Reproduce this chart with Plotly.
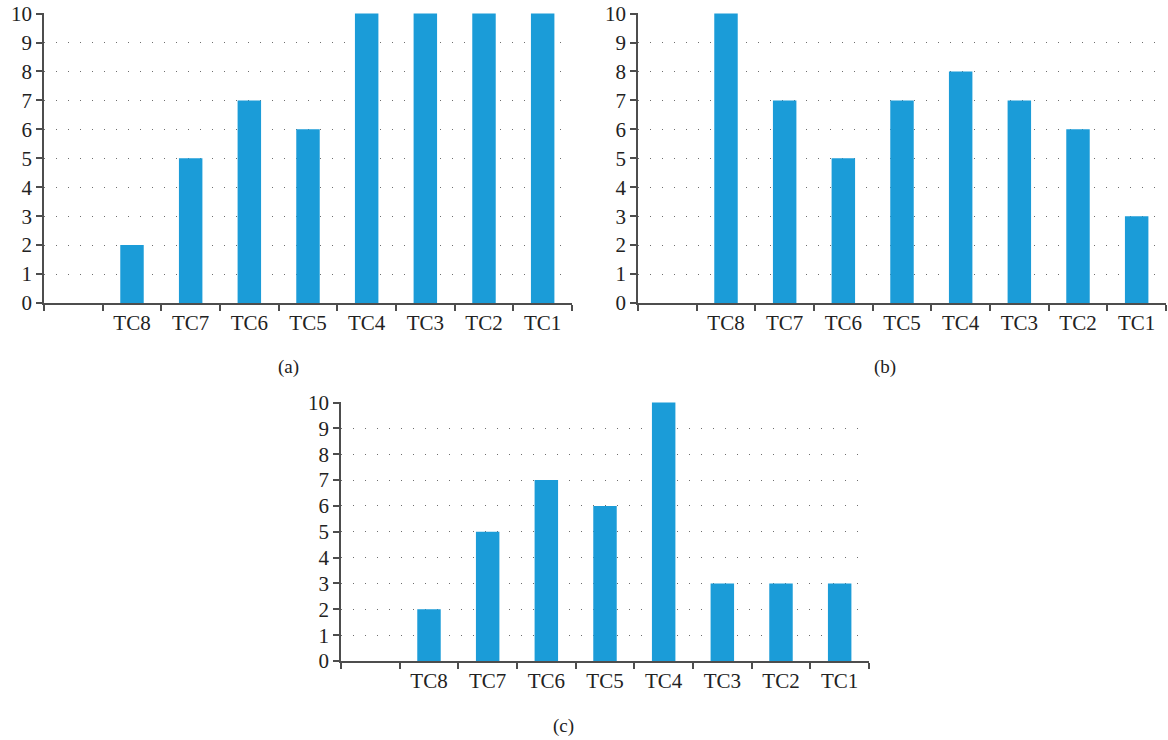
import plotly.graph_objects as go

# Test-case categories; the first slot is left empty on purpose
categories = [" ", "TC8", "TC7", "TC6", "TC5", "TC4", "TC3", "TC2", "TC1"]

values_a = [None, 2, 5, 7, 6, 10, 10, 10, 10]
values_b = [None, 10, 7, 5, 7, 8, 7, 6, 3]
values_c = [None, 2, 5, 7, 6, 10, 3, 3, 3]

panel_labels = ["(a)", "(b)", "(c)"]
y_ticks = list(range(0, 11))

W, H = 1168, 740
BAR_COLOR = "#1b9cd8"
AXIS_COLOR = "#4d4d4d"
FONT = "Liberation Serif"
TICK_SIZE = 21


def px_x(v):
    return v / W


def px_y(v):
    return 1 - v / H


# pixel boxes (left, right, top, bottom) for each panel
boxes = [
    (44, 572, 13, 303),
    (638, 1166, 13, 303),
    (341, 869, 402, 661),
]

fig = go.Figure()
series = [values_a, values_b, values_c]

for i, (vals, box) in enumerate(zip(series, boxes), start=1):
    xa = "x" if i == 1 else f"x{i}"
    ya = "y" if i == 1 else f"y{i}"
    fig.add_trace(go.Bar(
        x=categories, y=vals, xaxis=xa, yaxis=ya,
        marker=dict(color=BAR_COLOR, line=dict(width=0)),
        showlegend=False, hoverinfo="x+y",
    ))
    l, r, t, b = box
    xkey = "xaxis" if i == 1 else f"xaxis{i}"
    ykey = "yaxis" if i == 1 else f"yaxis{i}"
    fig.layout[xkey] = dict(
        domain=[px_x(l), px_x(r)], anchor=ya, automargin=False,
        type="category", categoryorder="array", categoryarray=categories,
        tickson="boundaries", ticks="outside", ticklen=6, tickwidth=1.5,
        tickcolor=AXIS_COLOR, showline=True, linecolor=AXIS_COLOR, linewidth=1.5,
        showgrid=False, zeroline=False,
        tickfont=dict(family=FONT, size=TICK_SIZE, color="#222"),
        fixedrange=True,
    )
    fig.layout[ykey] = dict(
        domain=[px_y(b), px_y(t)], anchor=xa, automargin=False,
        range=[0, 10.02], tickvals=y_ticks, ticks="outside", ticklen=6,
        tickwidth=1.5, tickcolor=AXIS_COLOR, showline=True, linecolor=AXIS_COLOR,
        linewidth=1.5, showgrid=True, gridcolor="#6e6e6e", gridwidth=1.4,
        griddash="1.4px,10.6px", zeroline=False,
        tickfont=dict(family=FONT, size=TICK_SIZE, color="#222"),
        fixedrange=True,
    )

label_pos = [(288, 367), (885, 367), (563, 726)]
for text, (lx, ly) in zip(panel_labels, label_pos):
    fig.add_annotation(
        text=text, x=px_x(lx), y=px_y(ly), xref="paper", yref="paper",
        showarrow=False, xanchor="center", yanchor="middle",
        font=dict(family=FONT, size=19, color="#222"),
    )

fig.update_layout(
    width=W, height=H, margin=dict(l=0, r=0, t=0, b=0, autoexpand=False),
    paper_bgcolor="white", plot_bgcolor="white",
    bargap=0.6,
)

fig.write_html("out.html")
